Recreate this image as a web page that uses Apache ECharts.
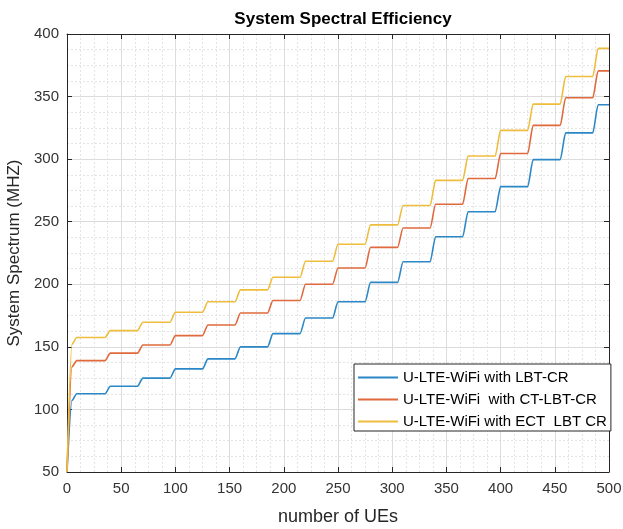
<!DOCTYPE html>
<html>
<head>
<meta charset="utf-8">
<script src="https://cdn.jsdelivr.net/npm/echarts@6/dist/echarts.min.js"></script>
<style>
  html, body { margin: 0; padding: 0; background: #fff; }
  #chart { width: 623px; height: 529px; }
</style>
</head>
<body>
<div id="chart"></div>
<script>
// step positions (number of UEs) where each flat level starts / ends
const levelStart = [9, 40, 70, 100, 130, 160, 190, 220, 250, 280, 310, 340, 370, 400, 430, 460, 490]
const levelEnd = [35, 65, 95, 125, 155, 185, 215, 245, 275, 305, 335, 365, 395, 425, 455, 485, 500]

// initial ramp
const rampX = [0, 4.5]
const lbtRamp = [50, 107]
const ctRamp = [50, 134]
const ectRamp = [50, 152]

// flat levels
const lbtLevels = [112.5, 118.5, 125, 132.4, 140.4, 150, 160.6, 173, 186, 201.5, 218, 238, 258, 278, 299.6, 321, 343.5]
const ctLevels = [139, 145, 151.5, 159, 167.5, 177, 187, 200, 213, 229.5, 245, 264, 284.5, 304.5, 327, 349, 370.5]
const ectLevels = [157.5, 163, 169.7, 177.6, 186, 195.5, 205.6, 218.4, 232, 247.5, 263, 283, 302.5, 323, 344, 366, 388.5]

const seriesNames = ['U-LTE-WiFi with LBT-CR', 'U-LTE-WiFi  with CT-LBT-CR', 'U-LTE-WiFi with ECT  LBT CR']
const colors = ['#2b87c6', '#e0693d', '#efbd3e']

const xTicks = [0, 500, 50]
const yTicks = [50, 400, 50]

const buildPoints = (ramp, levels) => {
  const pts = rampX.map((x, i) => [x, ramp[i]])
  levels.forEach((v, i) => {
    pts.push([levelStart[i], v])
    pts.push([levelEnd[i], v])
  })
  return pts
}

const font = 'Liberation Sans, Arial, Helvetica, sans-serif'
const chart = echarts.init(document.getElementById('chart'))

const gridLine = { show: true, lineStyle: { color: '#dcdcdc', width: 1 } }
const minorLine = { show: true, lineStyle: { color: '#e4e4e4', width: 1, type: [2, 2] } }
const axisLine = { show: true, onZero: false, lineStyle: { color: '#262626', width: 1 } }
const tickIn = { show: true, inside: true, length: 5, lineStyle: { color: '#262626' } }

const option = {
  backgroundColor: '#fff',
  animation: false,
  title: {
    text: 'System Spectral Efficiency',
    left: 338,
    textAlign: 'center',
    top: 6,
    textStyle: { fontFamily: font, fontSize: 17, fontWeight: 'bold', color: '#000' }
  },
  grid: { left: 67, right: 14, top: 34, bottom: 57, containLabel: false, outerBoundsMode: 'none' },
  legend: {
    orient: 'vertical',
    left: 354,
    top: 364,
    padding: [5, 4, 1, 4],
    itemGap: 5,
    itemWidth: 40,
    itemHeight: 2,
    icon: 'rect',
    backgroundColor: '#fff',
    borderColor: '#262626',
    borderWidth: 1,
    textStyle: { fontFamily: font, fontSize: 15, lineHeight: 17, color: '#000' },
    data: seriesNames
  },
  xAxis: [
    {
      type: 'value',
      min: xTicks[0], max: xTicks[1], interval: xTicks[2],
      name: 'number of UEs',
      nameLocation: 'middle',
      nameGap: 36,
      nameTextStyle: { fontFamily: font, fontSize: 18, color: '#262626' },
      axisLine: axisLine,
      axisTick: tickIn,
      axisLabel: { fontFamily: font, fontSize: 15, color: '#333', margin: 9 },
      splitLine: gridLine,
      minorTick: { show: false, splitNumber: 4 },
      minorSplitLine: minorLine
    },
    {
      type: 'value', position: 'top',
      min: xTicks[0], max: xTicks[1], interval: xTicks[2],
      axisLine: axisLine, axisTick: tickIn,
      axisLabel: { show: false }, splitLine: { show: false }
    }
  ],
  yAxis: [
    {
      type: 'value',
      min: yTicks[0], max: yTicks[1], interval: yTicks[2],
      name: 'System Spectrum (MHZ)',
      nameLocation: 'middle',
      nameGap: 41,
      nameTextStyle: { fontFamily: font, fontSize: 17, color: '#262626' },
      axisLine: axisLine,
      axisTick: tickIn,
      axisLabel: { fontFamily: font, fontSize: 15, color: '#333', margin: 8 },
      splitLine: gridLine,
      minorTick: { show: false, splitNumber: 4 },
      minorSplitLine: minorLine
    },
    {
      type: 'value', position: 'right',
      min: yTicks[0], max: yTicks[1], interval: yTicks[2],
      axisLine: axisLine, axisTick: tickIn,
      axisLabel: { show: false }, splitLine: { show: false }
    }
  ],
  series: [
    { ramp: lbtRamp, levels: lbtLevels },
    { ramp: ctRamp, levels: ctLevels },
    { ramp: ectRamp, levels: ectLevels }
  ].map((s, i) => ({
    name: seriesNames[i],
    type: 'line',
    showSymbol: false,
    symbol: 'none',
    smooth: 0.25,
    smoothMonotone: 'x',
    color: colors[i],
    lineStyle: { width: 1.6, color: colors[i] },
    data: buildPoints(s.ramp, s.levels)
  }))
}

chart.setOption(option)
</script>
</body>
</html>
